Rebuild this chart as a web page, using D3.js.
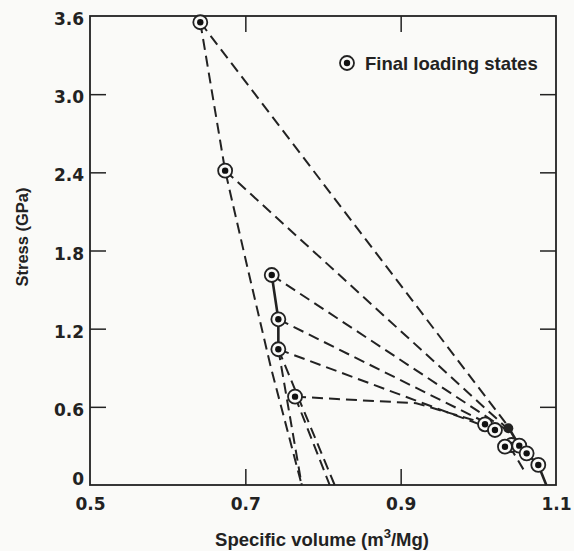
<!DOCTYPE html>
<html>
<head>
<meta charset="utf-8">
<script src="https://cdn.jsdelivr.net/npm/d3@7"></script>
<style>
  body { margin: 0; background: #fafaf8; }
  svg { display: block; font-family: "Liberation Sans", Arial, sans-serif; }
</style>
</head>
<body>
<div class="container"></div>
<script>
// specific volume (m3/Mg), stress (GPa)
const peakStates = [[0.642, 3.552], [0.674, 2.413], [0.734, 1.612], [0.7425, 1.272], [0.7425, 1.042], [0.764, 0.678]];
const lowStates = [[1.0086, 0.466], [1.0214, 0.422], [1.0429, 0.307], [1.0343, 0.294], [1.0527, 0.302], [1.0622, 0.243], [1.0772, 0.154]];

// dashed curves on the left
const upperCurve = [[0.642, 3.552], [0.674, 2.413], [0.7035, 1.65], [0.733, 0.9], [0.7726, 0]];
const midCurveSolid = [[0.734, 1.612], [0.7425, 1.272], [0.7425, 1.042]];
const midCurveDash = [[0.7425, 1.042], [0.7726, 0]];
const releaseA = [[0.7425, 1.042], [0.815, 0]];
const releaseB = [[0.764, 0.678], [0.8086, 0]];

// rays from each peak state to the low stress end
const rays = [
  [[0.642, 3.552], [1.041, 0.43]],
  [[0.674, 2.413], [1.039, 0.425]],
  [[0.734, 1.612], [1.037, 0.42]],
  [[0.7425, 1.272], [1.033, 0.41]],
  [[0.7425, 1.042], [1.0214, 0.422]],
  [[0.764, 0.678], [0.818, 0.66], [0.92, 0.628], [0.993, 0.5], [1.0086, 0.466]]
];

// low stress solid curve and short dashed tail
const lowCurve = [[1.039, 0.44], [1.0527, 0.302], [1.0622, 0.243], [1.0772, 0.154], [1.0875, 0]];
const lowTail = [[1.04, 0.3], [1.058, 0.12]];
const blob = [[1.0386, 0.435]];

const xTicks = [0.5, 0.7, 0.9, 1.1];
const yTicks = [0, 0.6, 1.2, 1.8, 2.4, 3.0, 3.6];
const xInner = [0.7, 0.9];
const yInner = [0.6, 1.2, 1.8, 2.4, 3.0];

const W = 574, H = 551;
const margin = { top: 16, right: 18, bottom: 66, left: 90 };
const width = W - margin.left - margin.right,
      height = H - margin.top - margin.bottom;
const ink = "#222";

const svg = d3.select('.container')
  .append('svg')
  .attr('width', W)
  .attr('height', H);

const g = svg.append('g')
  .attr('transform', `translate(${margin.left}, ${margin.top})`);

const x = d3.scaleLinear().domain([0.5, 1.1]).range([0, width]);
const y = d3.scaleLinear().domain([0, 3.6]).range([height, 0]);

const line = d3.line().x(d => x(d[0])).y(d => y(d[1]));

// frame
g.append('rect')
  .attr('width', width).attr('height', height)
  .attr('fill', 'none').attr('stroke', ink).attr('stroke-width', 1.8);

// inner ticks
const tickStyle = sel => {
  sel.select('.domain').remove();
  sel.selectAll('line').attr('stroke', ink).attr('stroke-width', 1.5);
};
g.append('g').call(d3.axisRight(y).tickValues(yInner).tickSize(16).tickFormat('')).call(tickStyle);
g.append('g').attr('transform', `translate(${width},0)`)
  .call(d3.axisLeft(y).tickValues(yInner).tickSize(16).tickFormat('')).call(tickStyle);
g.append('g').call(d3.axisBottom(x).tickValues(xInner).tickSize(16).tickFormat('')).call(tickStyle);
g.append('g').attr('transform', `translate(0,${height})`)
  .call(d3.axisTop(x).tickValues(xInner).tickSize(16).tickFormat('')).call(tickStyle);

// tick labels
const labelStyle = sel => {
  sel.select('.domain').remove();
  sel.selectAll('text')
    .attr('fill', ink)
    .style('font-family', '"DejaVu Sans", sans-serif')
    .style('font-weight', 'bold')
    .style('font-size', '17px');
};
const yLab = g.append('g')
  .call(d3.axisLeft(y).tickValues(yTicks).tickSize(0).tickPadding(6)
    .tickFormat(d => d === 0 ? '0' : d3.format('.1f')(d)))
  .call(labelStyle);
yLab.selectAll('text').attr('dy', d => d === 0 ? '-0.05em' : '0.5em');

g.append('g').attr('transform', `translate(0,${height})`)
  .call(d3.axisBottom(x).tickValues(xTicks).tickSize(0).tickPadding(13).tickFormat(d3.format('.1f')))
  .call(labelStyle);

// axis titles
svg.append('text')
  .attr('transform', `translate(28, 237) rotate(-90)`)
  .attr('text-anchor', 'middle')
  .attr('fill', ink)
  .style('font-size', '16.5px').style('font-weight', 'bold')
  .text('Stress (GPa)');

const xt = svg.append('text')
  .attr('x', 322)
  .attr('y', 546)
  .attr('text-anchor', 'middle')
  .attr('fill', ink)
  .style('font-size', '18.5px').style('font-weight', 'bold');
xt.append('tspan').text('Specific volume (m');
xt.append('tspan').attr('dy', -8).style('font-size', '13px').text('3');
xt.append('tspan').attr('dy', 8).text('/Mg)');

// dashed curves
const dashed = [upperCurve, midCurveDash, releaseA, releaseB, lowTail].concat(rays);
g.selectAll('path.dash')
  .data(dashed)
  .enter()
  .append('path')
  .attr('class', 'dash')
  .attr('d', line)
  .attr('fill', 'none')
  .attr('stroke', ink)
  .attr('stroke-width', 2)
  .attr('stroke-dasharray', '11,6');

// solid pieces
g.selectAll('path.solid')
  .data([midCurveSolid, lowCurve])
  .enter()
  .append('path')
  .attr('class', 'solid')
  .attr('d', line)
  .attr('fill', 'none')
  .attr('stroke', ink)
  .attr('stroke-width', 2.6);

g.selectAll('circle.blob')
  .data(blob)
  .enter()
  .append('circle')
  .attr('class', 'blob')
  .attr('cx', d => x(d[0])).attr('cy', d => y(d[1]))
  .attr('r', 5).attr('fill', ink);

// markers
const marker = (sel) => {
  sel.append('circle').attr('r', 7).attr('fill', '#fafaf8').attr('stroke', ink).attr('stroke-width', 1.8);
  sel.append('circle').attr('r', 3.2).attr('fill', '#111');
};
g.selectAll('g.state')
  .data(peakStates.concat(lowStates))
  .enter()
  .append('g')
  .attr('class', 'state')
  .attr('transform', d => `translate(${x(d[0])},${y(d[1])})`)
  .call(marker);

// legend
const leg = svg.append('g').attr('transform', 'translate(347,63)');
leg.append('g').call(marker);
leg.append('text')
  .attr('x', 18).attr('y', 6.5)
  .attr('fill', ink)
  .style('font-size', '18.5px').style('font-weight', 'bold')
  .text('Final loading states');
</script>
</body>
</html>
